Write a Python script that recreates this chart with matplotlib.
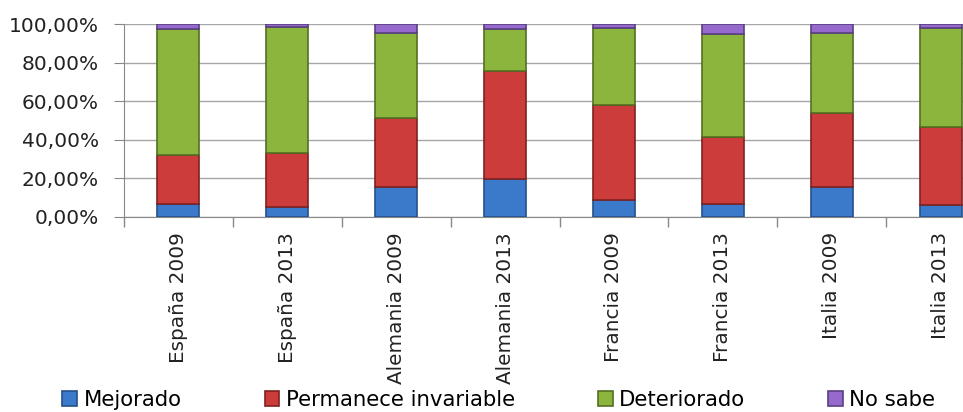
import matplotlib.pyplot as plt
import numpy as np

plt.rcParams['font.family'] = ['DejaVu Sans']

paises = ['España 2009', 'España 2013', 'Alemania 2009', 'Alemania 2013',
          'Francia 2009', 'Francia 2013', 'Italia 2009', 'Italia 2013']
mejorado = [6.6, 5.2, 15.6, 19.4, 8.7, 6.6, 15.6, 5.9]
permanece = [25.4, 28.0, 35.4, 56.2, 49.1, 34.9, 38.4, 40.8]
deteriorado = [65.2, 65.4, 44.5, 21.6, 40.0, 53.3, 41.5, 51.1]
no_sabe = [2.8, 1.4, 4.5, 2.8, 2.2, 5.2, 4.5, 2.2]

series = [mejorado, permanece, deteriorado, no_sabe]
nombres = ['Mejorado', 'Permanece invariable', 'Deteriorado', 'No sabe']
colores = ['#3b7acb', '#cc3c3a', '#8cb53e', '#9669cc']
bordes = ['#24508a', '#7e2221', '#546f22', '#5a3f85']

fig = plt.figure(figsize=(9.63, 4.12), dpi=100)
# the plot area runs past the right edge, like the cropped original
ax = fig.add_axes([124 / 963, 1 - 216.7 / 412, (995 - 124) / 963, (216.7 - 24) / 412])

x = np.arange(len(paises))
base = np.zeros(len(paises))
for vals, nom, col, bc in zip(series, nombres, colores, bordes):
    ax.bar(x, vals, 0.385, bottom=base, color=col, edgecolor=bc, linewidth=1.2,
           label=nom, zorder=3)
    base += np.array(vals)

ax.set_xlim(-0.5, len(paises) - 0.5)
ax.set_ylim(0, 100)
ax.set_yticks(np.arange(0, 101, 20))
ax.set_yticklabels(['{:.2f}%'.format(v).replace('.', ',') for v in range(0, 101, 20)],
                   fontsize=14.5, color='#222222')
ax.set_xticks(x)
ax.set_xticklabels(paises, rotation=90, fontsize=14.4, va='top', ha='center', color='#222222')
ax.set_xticks(np.arange(-0.5, len(paises), 1), minor=True)
ax.tick_params(axis='x', which='major', length=0, pad=11)
ax.tick_params(axis='x', which='minor', length=7, color='#888888', width=1)
ax.tick_params(axis='y', length=7, color='#888888', pad=11)
ax.grid(axis='y', color='#a6a6a6', linewidth=1, zorder=0)
for s in ['top', 'right']:
    ax.spines[s].set_visible(False)
ax.spines['left'].set_color('#888888')
ax.spines['bottom'].set_color('#888888')

h, l = ax.get_legend_handles_labels()
fig.legend(h, l, loc='center', bbox_to_anchor=(0.518, 0.03), ncol=4, frameon=False,
           fontsize=15.3, handlelength=0.7, handleheight=0.7, handletextpad=0.3,
           columnspacing=3.9, borderpad=0, borderaxespad=0)

fig.savefig('out.png', dpi=100)
